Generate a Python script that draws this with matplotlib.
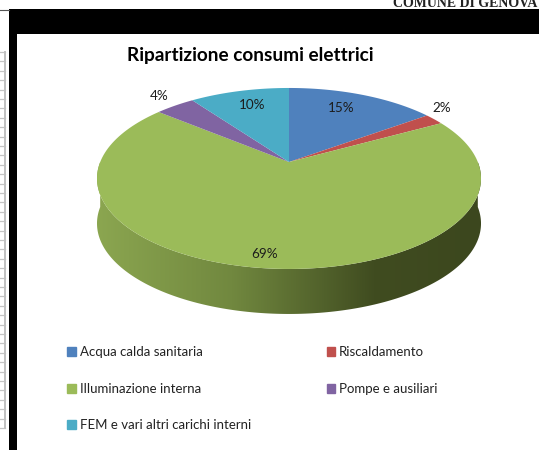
import numpy as np
from matplotlib import pyplot as plt
from matplotlib.patches import Polygon, Patch
from matplotlib.colors import LinearSegmentedColormap

title = "Ripartizione consumi elettrici"
categories = ["Acqua calda sanitaria", "Riscaldamento", "Illuminazione interna",
              "Pompe e ausiliari", "FEM e vari altri carichi interni"]
values = [15, 2, 69, 4, 10]
colors = ["#4f81bd", "#c0504d", "#9bbb59", "#8064a2", "#4bacc6"]
# label offset from the rim point of each slice, in pixels
label_dx = [-22, 7, -3, -16, 13]
label_dy = [13, -11, -14, -10, 14]

# pie placement, axes are in image pixels
CX, CY = 289, 162
A, B = 188.8, 87.5
K = 0.182
DEPTH = 45

plt.rcParams['font.family'] = ['Lato', 'DejaVu Sans']


def project(frac, r=1.0):
    # position on the tilted disc, clockwise from 12 o'clock
    ang = 2 * np.pi * np.asarray(frac)
    u = r * np.sin(ang)
    v = r * np.cos(ang)
    w = 1 + K * v
    return CX + A * u / w, CY - B * v / w


def draw_frame(ax):
    ax.fill_between([9, 539], 9, 34, color="black", lw=0)
    ax.fill_between([9, 16.7], 9, 450, color="black", lw=0)
    ax.plot([0, 9], [9.5, 9.5], color="#555555", lw=0.8)
    for y in np.arange(52, 430, 9.4):
        ax.plot([0, 5], [y, y], color="#c4c4c4", lw=0.9)
    ax.plot([5, 5], [52, 428], color="#c0c0c0", lw=1.4)
    t = ax.text(537, 7, "COMUNE DI GENOVA", family="Liberation Serif", weight="bold",
                fontsize=10, ha="right", va="baseline", color="#222222")
    t.set_clip_path(plt.Rectangle((0, 0), 539, 9, transform=ax.transData))


def draw_side(ax):
    # front wall of the pie with the horizontal shading
    fr = np.linspace(0.25, 0.75, 200)
    x, y = project(fr)
    poly = np.vstack([np.column_stack([x, y]), np.column_stack([x[::-1], y[::-1] + DEPTH])])
    patch = Polygon(poly, closed=True, fc="none", ec="none", transform=ax.transData)
    ax.add_patch(patch)
    cmap = LinearSegmentedColormap.from_list(
        "side", [(0, "#8ba650"), (0.35, "#71883f"), (0.72, "#404c20"), (1, "#3c471e")])
    im = ax.imshow(np.linspace(0, 1, 256).reshape(1, -1), cmap=cmap, aspect="auto",
                   extent=[x.min(), x.max(), 330, 150], zorder=2)
    im.set_clip_path(patch)


def draw_pie(ax):
    edges = np.cumsum([0] + values) / sum(values)
    for i, val in enumerate(values):
        fr = np.linspace(edges[i], edges[i + 1], 150)
        x, y = project(fr)
        pts = [(CX, CY)] + list(zip(x, y))
        ax.add_patch(Polygon(pts, closed=True, fc=colors[i], ec="none", zorder=3))
        mx, my = project((edges[i] + edges[i + 1]) / 2)
        ax.text(mx + label_dx[i], my + label_dy[i], "{}%".format(val), fontsize=9.7,
                color="#1c1c1c", ha="center", va="center", zorder=5)


def main():
    fig = plt.figure(figsize=(5.39, 4.5), dpi=100)
    ax = fig.add_axes([0, 0, 1, 1])

    draw_frame(ax)
    draw_side(ax)
    draw_pie(ax)

    ax.set_xlim(0, 539)
    ax.set_ylim(450, 0)
    ax.axis("off")

    ax.text(250.5, 55, title, fontsize=13.7, weight="bold", ha="center", va="center", color="black")

    handles = [Patch(color=c, label=n) for c, n in zip(colors, categories)]
    order = [0, 2, 4, 1, 3]
    ax.legend([handles[i] for i in order], [categories[i] for i in order], ncol=2,
              loc="upper left", bbox_to_anchor=(67 / 539, 1 - 346.5 / 450), frameon=False,
              fontsize=9.5, handlelength=0.65, handleheight=0.65, handletextpad=0.3,
              labelspacing=1.84, columnspacing=5.75, labelcolor="#222222", borderpad=0,
              borderaxespad=0)

    plt.savefig("out.png", dpi=100)
    plt.close()


if __name__ == "__main__":
    main()
